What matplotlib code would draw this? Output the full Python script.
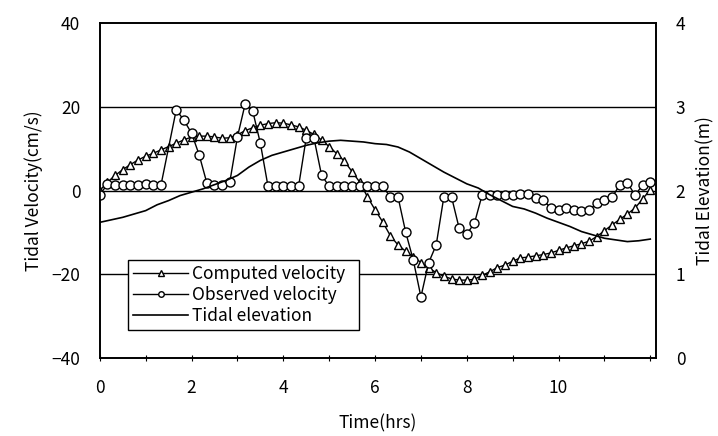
import matplotlib
matplotlib.use("Agg")
import matplotlib.pyplot as plt
import numpy as np

plt.rcParams['font.family'] = ['Noto Sans CJK JP', 'DejaVu Sans']

# -------------------------
# Data (10-minute samples, 0 - 12 hrs)
# -------------------------
time_hrs = np.arange(73) / 6.0

computed_velocity = [
    0.0, 2.0, 3.6, 5.0, 6.2, 7.3, 8.2, 8.9, 9.7, 10.5,
    11.3, 12.1, 12.8, 13.0, 13.0, 12.8, 12.5, 12.6, 13.3, 14.3,
    15.0, 15.6, 16.0, 16.2, 16.1, 15.7, 15.2, 14.4, 13.4, 12.1,
    10.5, 8.8, 7.0, 4.5, 2.0, -1.5, -4.6, -7.5, -10.8, -13.0,
    -14.5, -15.8, -17.2, -18.5, -19.6, -20.5, -21.1, -21.4, -21.4, -21.2,
    -20.3, -19.4, -18.4, -17.8, -16.9, -16.1, -15.9, -15.6, -15.3, -14.9,
    -14.3, -13.7, -13.2, -12.7, -12.1, -11.0, -9.6, -8.2, -6.9, -5.6,
    -4.2, -2.0, 0.2,
]

# None = no observation at that time step
observed_velocity = [
    -1.0, 1.5, 1.3, 1.3, 1.3, 1.3, 1.5, 1.3, 1.3, None,
    19.3, 16.8, 13.7, 8.5, 1.8, 1.3, 1.3, 2.0, 12.8, 20.6,
    19.0, 11.3, 1.0, 1.0, 1.0, 1.0, 1.0, 12.6, 12.6, 3.7,
    1.0, 1.0, 1.0, 1.0, 1.0, 1.0, 1.0, 1.0, -1.5, -1.5,
    -9.9, -16.6, -25.4, -17.3, -13.0, -1.5, -1.5, -9.0, -10.4, -7.8,
    -1.1, -1.1, -1.1, -1.1, -1.1, -0.8, -0.8, -1.8, -2.3, -4.2,
    -4.7, -4.2, -4.7, -5.0, -4.7, -3.0, -2.3, -1.6, 1.3, 1.9,
    -1.1, 1.3, 2.0,
]

# tidal elevation, 15-minute samples
tide_time = np.arange(49) * 0.25
tidal_elevation = [
    1.62, 1.65, 1.68, 1.72, 1.76, 1.83, 1.88, 1.94, 1.98, 2.02,
    2.07, 2.12, 2.18, 2.28, 2.36, 2.42, 2.46, 2.50, 2.54, 2.57,
    2.59, 2.60, 2.59, 2.58, 2.56, 2.55, 2.52, 2.46, 2.38, 2.30,
    2.22, 2.15, 2.08, 2.03, 1.95, 1.88, 1.81, 1.78, 1.73, 1.67,
    1.62, 1.57, 1.51, 1.47, 1.43, 1.41, 1.39, 1.40, 1.42,
]

obs = np.array([np.nan if v is None else v for v in observed_velocity])
ok = ~np.isnan(obs)

# -------------------------
# Figure
# -------------------------
fig = plt.figure(figsize=(7.18, 4.36), dpi=100)
ax = fig.add_axes([0.139, 0.179, 0.775, 0.768])
ax2 = ax.twinx()

for yv in (-20, 0, 20):
    ax.axhline(yv, color='black', lw=1.0, zorder=1)

l1, = ax.plot(time_hrs, computed_velocity, color='black', lw=1.0,
              marker='^', markersize=5.5, markerfacecolor='white',
              markeredgecolor='black', markeredgewidth=1.0,
              label='Computed velocity', zorder=3)
l2, = ax.plot(time_hrs[ok], obs[ok], color='black', lw=1.0,
              marker='o', markersize=6.5, markerfacecolor='white',
              markeredgecolor='black', markeredgewidth=1.0,
              label='Observed velocity', zorder=4)
l3, = ax2.plot(tide_time, tidal_elevation, color='black', lw=1.2,
               label='Tidal elevation')

ax.set_xlim(0, 12.13)
ax.set_ylim(-40, 40)
ax2.set_ylim(0, 4)

ax.set_xticks(np.arange(0, 13, 1))
ax.set_xticklabels([str(h) if (h % 2 == 0 and h <= 10) else '' for h in range(13)])
ax.set_yticks([-40, -20, 0, 20, 40])
ax2.set_yticks([0, 1, 2, 3, 4])

ax.tick_params(axis='x', direction='inout', length=5, width=0.8, pad=13,
               labelsize=12.5)
ax.tick_params(axis='y', length=0, pad=14, labelsize=12.5)
ax2.tick_params(axis='y', length=0, pad=14, labelsize=12.5)

ax.set_xlabel('Time(hrs)', fontsize=12.5, labelpad=12)
ax.set_ylabel('Tidal Velocity(cm/s)', fontsize=12.5, labelpad=6)
ax2.set_ylabel('Tidal Elevation(m)', fontsize=12.5, rotation=90, labelpad=8)

for a in (ax, ax2):
    for s in a.spines.values():
        s.set_linewidth(1.2)

leg = ax.legend(handles=[l1, l2, l3], loc='lower left',
                bbox_to_anchor=(0.05, 0.084, 0.415, 0.223), mode='expand',
                fontsize=12.5, frameon=True, fancybox=False, numpoints=1,
                handlelength=3.2, handletextpad=0.2, borderaxespad=0,
                labelspacing=0.15, borderpad=0.3)
leg.get_frame().set_edgecolor('black')
leg.get_frame().set_linewidth(1.0)
leg.get_frame().set_alpha(1)
for h in leg.legend_handles:
    h.set_markersize(4)

fig.savefig('out.png', dpi=100)
